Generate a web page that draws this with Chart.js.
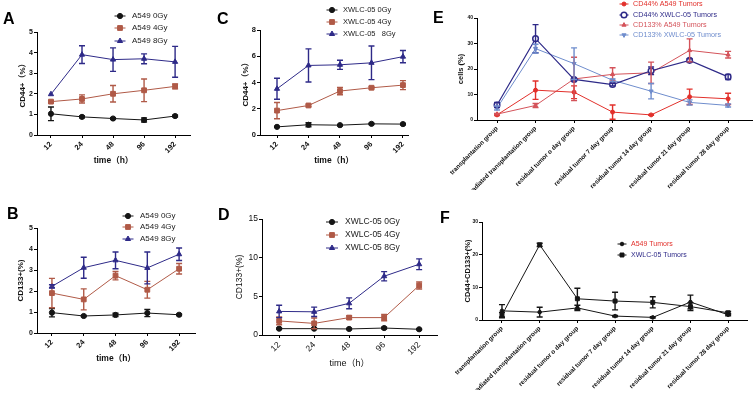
<!DOCTYPE html>
<html>
<head>
<meta charset="utf-8">
<script src="https://cdn.jsdelivr.net/npm/chart.js@4.4.1/dist/chart.umd.min.js"></script>
<style>
html, body { margin: 0; padding: 0; background: #fff; }
#wrap { position: relative; width: 753px; height: 400px; overflow: hidden; background: #fff; }
#wrap canvas { position: absolute; left: 0; top: 0; }
.lbl { position: absolute; font: bold 16px "Liberation Sans", Arial, sans-serif; line-height: 16px; color: #000; }
</style>
</head>
<body>
<div id="wrap">
  <canvas id="cA" width="753" height="400"></canvas>
  <canvas id="cB" width="753" height="400"></canvas>
  <canvas id="cC" width="753" height="400"></canvas>
  <canvas id="cD" width="753" height="400"></canvas>
  <canvas id="cE" width="753" height="400"></canvas>
  <canvas id="cF" width="753" height="400"></canvas>
  <div class="lbl" style="left:3px;top:11px">A</div>
  <div class="lbl" style="left:7px;top:206px">B</div>
  <div class="lbl" style="left:217px;top:11px">C</div>
  <div class="lbl" style="left:218px;top:207px">D</div>
  <div class="lbl" style="left:433px;top:10px">E</div>
  <div class="lbl" style="left:440px;top:210px">F</div>
</div>
<script>
// ---- data ----
const timeLabels = ['12', '24', '48', '96', '192'];
const groupLabels = ['transplantation group', 'irradiated transplantation group', 'residual tumor o day group',
  'residual tumor 7 day group', 'residual tumor 14 day group', 'residual tumor 21 day group', 'residual tumor 28 day group'];

const ticksA = [0, 1, 2, 3, 4, 5];
const ticksB = [0, 1, 2, 3, 4, 5];
const ticksC = [0, 2, 4, 6, 8];
const ticksD = [0, 5, 10, 15];
const ticksE = [0, 10, 20, 30, 40];
const ticksF = [0, 10, 20, 30];

// A: CD44+ A549
const a549Cd44Gy0 = [1.03, 0.88, 0.80, 0.73, 0.92];
const a549Cd44Gy0Err = [0.33, 0.04, 0.04, 0.10, 0.04];
const a549Cd44Gy4 = [1.62, 1.75, 2.00, 2.17, 2.36];
const a549Cd44Gy4Err = [0.05, 0.20, 0.40, 0.55, 0.12];
const a549Cd44Gy8 = [1.98, 3.90, 3.66, 3.70, 3.55];
const a549Cd44Gy8Err = [0, 0.43, 0.57, 0.24, 0.75];

// B: CD133+ A549
const a549Cd133Gy0 = [0.97, 0.81, 0.86, 0.95, 0.87];
const a549Cd133Gy0Err = [0.20, 0.03, 0.08, 0.17, 0.04];
const a549Cd133Gy4 = [1.90, 1.60, 2.73, 2.06, 3.06];
const a549Cd133Gy4Err = [0.70, 0.50, 0.20, 0.40, 0.25];
const a549Cd133Gy8 = [2.22, 3.11, 3.46, 3.10, 3.75];
const a549Cd133Gy8Err = [0.08, 0.50, 0.40, 0.76, 0.30];

// C: CD44+ XWLC-05
const xwlcCd44Gy0 = [0.62, 0.78, 0.75, 0.85, 0.83];
const xwlcCd44Gy0Err = [0.03, 0.15, 0.04, 0.05, 0.05];
const xwlcCd44Gy4 = [1.86, 2.25, 3.35, 3.60, 3.80];
const xwlcCd44Gy4Err = [0.62, 0.08, 0.28, 0.08, 0.34];
const xwlcCd44Gy8 = [3.52, 5.30, 5.35, 5.50, 5.97];
const xwlcCd44Gy8Err = [0.80, 1.26, 0.35, 1.28, 0.47];

// D: CD133+ XWLC-05
const xwlcCd133Gy0 = [0.82, 0.82, 0.78, 0.90, 0.74];
const xwlcCd133Gy0Err = [0.08, 0.08, 0.06, 0.10, 0.06];
const xwlcCd133Gy4 = [1.82, 1.50, 2.25, 2.25, 6.40];
const xwlcCd133Gy4Err = [0.50, 0.70, 0.20, 0.40, 0.45];
const xwlcCd133Gy8 = [3.05, 3.00, 4.10, 7.60, 9.15];
const xwlcCd133Gy8Err = [0.80, 0.60, 0.70, 0.60, 0.70];

// E: tumors
const cd44A549Tumor = [2.0, 11.7, 10.9, 3.1, 2.0, 9.1, 8.3];
const cd44A549TumorErr = [0.3, 3.6, 2.5, 2.8, 0.2, 3.0, 2.2];
const cd44XwlcTumor = [5.9, 31.9, 15.9, 13.9, 19.3, 23.4, 16.9];
const cd44XwlcTumorErr = [1.0, 5.5, 0.5, 0.5, 1.5, 0.6, 1.0];
const cd133A549Tumor = [2.3, 5.7, 16.1, 17.9, 18.5, 27.3, 25.6];
const cd133A549TumorErr = [0.3, 0.8, 8.5, 2.6, 4.2, 4.5, 1.3];
const cd133XwlcTumor = [4.7, 28.0, 22.1, 15.6, 11.3, 6.9, 5.7];
const cd133XwlcTumorErr = [0.8, 1.7, 6.2, 0.5, 3.0, 1.0, 0.6];

// F: CD44+CD133+
const dualA549Tumor = [2.8, 2.4, 3.7, 1.2, 0.8, 5.5, 1.6];
const dualA549TumorErr = [1.9, 1.5, 0.8, 0.2, 0.2, 2.1, 0.3];
const dualXwlcTumor = [1.5, 23.0, 6.5, 5.8, 5.4, 4.1, 2.2];
const dualXwlcTumorErr = [0.8, 0.5, 3.2, 2.7, 1.7, 1.2, 0.4];

// ---- drawing ----
const FONT = '"Liberation Sans", Arial, "Noto Sans CJK SC", sans-serif';
const BLACK = '#151515', BROWN = '#b05a47', NAVY = '#2e2a88';

const errorBarPlugin = {
  id: 'errorBars',
  afterDatasetsDraw(chart) {
    const ctx = chart.ctx, xs = chart.scales.x, ys = chart.scales.y;
    chart.data.datasets.forEach(ds => {
      if (!ds.errors) return;
      ctx.save();
      ctx.strokeStyle = ds.borderColor;
      ctx.lineWidth = 1.4;
      ds.data.forEach((pt, i) => {
        const e = ds.errors[i];
        if (!e) return;
        const x = xs.getPixelForValue(pt.x);
        const y1 = ys.getPixelForValue(pt.y + e), y2 = ys.getPixelForValue(pt.y - e);
        const c = 3;
        ctx.beginPath();
        ctx.moveTo(x, y1); ctx.lineTo(x, y2);
        ctx.moveTo(x - c, y1); ctx.lineTo(x + c, y1);
        ctx.moveTo(x - c, y2); ctx.lineTo(x + c, y2);
        ctx.stroke();
      });
      ctx.restore();
    });
  }
};

const miniLegendPlugin = {
  id: 'miniLegend',
  afterDraw(chart, args, o) {
    if (!o || !o.ys) return;
    const ctx = chart.ctx;
    ctx.save();
    chart.data.datasets.forEach((ds, i) => {
      const y = o.ys[i], x = o.cx;
      ctx.strokeStyle = ds.borderColor;
      ctx.lineWidth = ds.borderWidth;
      ctx.beginPath(); ctx.moveTo(x - o.half, y); ctx.lineTo(x + o.half, y); ctx.stroke();
      ctx.fillStyle = ds.pointBackgroundColor;
      ctx.strokeStyle = ds.pointBorderColor;
      ctx.lineWidth = ds.pointBorderWidth;
      Chart.helpers.drawPoint(ctx, {pointStyle: ds.pointStyle, radius: ds.pointRadius,
        rotation: ds.pointRotation, borderWidth: ds.pointBorderWidth}, x, y);
      ctx.fillStyle = (o.colors && o.colors[i]) || '#222';
      ctx.font = o.size + 'px ' + FONT;
      ctx.textBaseline = 'middle';
      ctx.textAlign = 'left';
      ctx.fillText(ds.label, o.tx, y);
    });
    ctx.restore();
  }
};

function axisStyle() {
  return {
    grid: {display: true, drawOnChartArea: false, drawTicks: true, tickLength: 3, color: '#000', lineWidth: 1},
    border: {display: true, color: '#000', width: 1}
  };
}

function buildChart(id, p) {
  const ytl = p.yTitleSize * 1.2;
  const wy = p.box.l - (p.yTitleX - ytl / 2);
  const hx = p.xTitle ? p.xTitleY + p.xTitleSize * 0.6 - p.box.b : 70;
  const datasets = p.series.map(s => ({
    label: s.label,
    data: s.values.map((v, i) => ({x: i, y: v})),
    errors: s.errors,
    borderColor: s.color,
    backgroundColor: s.fill || s.color,
    pointBackgroundColor: s.fill || s.color,
    pointBorderColor: s.color,
    pointBorderWidth: s.pbw || 1,
    pointStyle: s.shape,
    pointRadius: s.r,
    pointRotation: s.rot || 0,
    borderWidth: s.lw || 1,
    tension: 0,
    fill: false
  }));
  return new Chart(document.getElementById(id), {
    type: 'line',
    data: {datasets},
    options: {
      responsive: false,
      animation: false,
      events: [],
      layout: {autoPadding: false, padding: {left: p.box.l - wy, top: p.box.t, right: 753 - p.box.r, bottom: 400 - p.box.b - hx}},
      plugins: {legend: {display: false}, tooltip: {enabled: false}, miniLegend: p.legend},
      scales: {
        x: Object.assign(axisStyle(), {
          type: 'linear', min: p.xMin, max: p.xMax,
          afterBuildTicks: s => { s.ticks = p.cats.map((c, i) => ({value: i})); },
          afterFit: s => { s.height = hx; },
          ticks: {autoSkip: false, minRotation: 45, maxRotation: 45, padding: 2, color: '#111',
            font: {family: FONT, size: p.xTickSize, weight: p.xTickWeight}, callback: v => p.cats[v]},
          title: {display: !!p.xTitle, text: p.xTitle, padding: 0, color: '#111',
            font: {family: FONT, size: p.xTitleSize, weight: p.xTitleWeight, lineHeight: 1.2}}
        }),
        y: Object.assign(axisStyle(), {
          min: p.yTicks[0], max: p.yTicks[p.yTicks.length - 1],
          afterBuildTicks: s => { s.ticks = p.yTicks.map(v => ({value: v})); },
          afterFit: s => { s.width = wy; },
          ticks: {padding: 1, color: '#111', font: {family: FONT, size: p.yTickSize, weight: p.yTickWeight}},
          title: {display: true, text: p.yTitle, padding: 0, color: '#111',
            font: {family: FONT, size: p.yTitleSize, weight: p.yTitleWeight, lineHeight: 1.2}}
        })
      }
    },
    plugins: [errorBarPlugin, miniLegendPlugin]
  });
}

function doseSeries(name, v0, e0, v4, e4, v8, e8, gap8) {
  return [
    {label: name + ' 0Gy', values: v0, errors: e0, color: BLACK, shape: 'circle', r: 2.6},
    {label: name + ' 4Gy', values: v4, errors: e4, color: BROWN, shape: 'rect', r: 3.4},
    {label: name + (gap8 ? '   8Gy' : ' 8Gy'), values: v8, errors: e8, color: NAVY, shape: 'triangle', r: 3}
  ];
}

buildChart('cA', {
  box: {l: 37, t: 32, r: 190, b: 135}, cats: timeLabels, xMin: -0.45, xMax: 4.48, yTicks: ticksA,
  yTitle: 'CD44+（%）', yTitleX: 23, yTitleSize: 8, yTitleWeight: 'bold',
  xTitle: 'time（h）', xTitleY: 161, xTitleSize: 8.5, xTitleWeight: 'bold',
  yTickSize: 7, yTickWeight: 'bold', xTickSize: 7.5, xTickWeight: 'bold',
  series: doseSeries('A549', a549Cd44Gy0, a549Cd44Gy0Err, a549Cd44Gy4, a549Cd44Gy4Err, a549Cd44Gy8, a549Cd44Gy8Err),
  legend: {cx: 120, half: 5.5, tx: 132, ys: [16, 28, 41], size: 8}
});

buildChart('cB', {
  box: {l: 37, t: 228, r: 195, b: 333}, cats: timeLabels, xMin: -0.47, xMax: 4.5, yTicks: ticksB,
  yTitle: 'CD133+(%)', yTitleX: 21, yTitleSize: 8, yTitleWeight: 'bold',
  xTitle: 'time（h）', xTitleY: 359, xTitleSize: 8.5, xTitleWeight: 'bold',
  yTickSize: 7, yTickWeight: 'bold', xTickSize: 7.5, xTickWeight: 'bold',
  series: doseSeries('A549', a549Cd133Gy0, a549Cd133Gy0Err, a549Cd133Gy4, a549Cd133Gy4Err, a549Cd133Gy8, a549Cd133Gy8Err),
  legend: {cx: 128, half: 5.5, tx: 140, ys: [216, 227, 239], size: 8}
});

buildChart('cC', {
  box: {l: 260, t: 30, r: 408, b: 135}, cats: timeLabels, xMin: -0.54, xMax: 4.16, yTicks: ticksC,
  yTitle: 'CD44+（%）', yTitleX: 246, yTitleSize: 8, yTitleWeight: 'bold',
  xTitle: 'time（h）', xTitleY: 161, xTitleSize: 8.5, xTitleWeight: 'bold',
  yTickSize: 7.5, yTickWeight: 'bold', xTickSize: 7.5, xTickWeight: 'bold',
  series: doseSeries('XWLC-05', xwlcCd44Gy0, xwlcCd44Gy0Err, xwlcCd44Gy4, xwlcCd44Gy4Err, xwlcCd44Gy8, xwlcCd44Gy8Err, true),
  legend: {cx: 332, half: 5.5, tx: 343, ys: [10, 22, 34], size: 7.5}
});

buildChart('cD', {
  box: {l: 262, t: 219, r: 437, b: 335}, cats: timeLabels, xMin: -0.49, xMax: 4.51, yTicks: ticksD,
  yTitle: 'CD133+(%)', yTitleX: 240, yTitleSize: 8.5, yTitleWeight: 'normal',
  xTitle: 'time（h）', xTitleY: 364, xTitleSize: 9, xTitleWeight: 'normal',
  yTickSize: 8.5, yTickWeight: 'normal', xTickSize: 8.5, xTickWeight: 'normal',
  series: doseSeries('XWLC-05', xwlcCd133Gy0, xwlcCd133Gy0Err, xwlcCd133Gy4, xwlcCd133Gy4Err, xwlcCd133Gy8, xwlcCd133Gy8Err),
  legend: {cx: 332, half: 6, tx: 345, ys: [222, 235, 248], size: 8.5}
});

const RED = '#e2302b', RED2 = '#d4535a', LBLUE = '#6f8dcd';

buildChart('cE', {
  box: {l: 477, t: 18, r: 752, b: 120}, cats: groupLabels, xMin: -0.52, xMax: 6.62, yTicks: ticksE,
  yTitle: 'cells (%)', yTitleX: 461, yTitleSize: 7.5, yTitleWeight: 'bold',
  yTickSize: 5, yTickWeight: 'bold', xTickSize: 6.3, xTickWeight: 'bold',
  series: [
    {label: 'CD44% A549 Tumors', values: cd44A549Tumor, errors: cd44A549TumorErr, color: RED, shape: 'circle', r: 2},
    {label: 'CD44% XWLC-05 Tumors', values: cd44XwlcTumor, errors: cd44XwlcTumorErr, color: NAVY, fill: '#fff', shape: 'circle', r: 2.8, pbw: 1.5, lw: 1.2},
    {label: 'CD133% A549 Tumors', values: cd133A549Tumor, errors: cd133A549TumorErr, color: RED2, shape: 'triangle', r: 2.4},
    {label: 'CD133% XWLC-05 Tumors', values: cd133XwlcTumor, errors: cd133XwlcTumorErr, color: LBLUE, shape: 'triangle', r: 2.4, rot: 180}
  ],
  legend: {cx: 624, half: 4.5, tx: 633, ys: [4, 15, 25, 35], size: 7.2, colors: [RED, NAVY, RED2, LBLUE]}
});

buildChart('cF', {
  box: {l: 482, t: 222, r: 747, b: 320}, cats: groupLabels, xMin: -0.53, xMax: 6.5, yTicks: ticksF,
  yTitle: 'CD44+CD133+(%)', yTitleX: 468, yTitleSize: 7.5, yTitleWeight: 'bold',
  yTickSize: 5, yTickWeight: 'bold', xTickSize: 6.3, xTickWeight: 'bold',
  series: [
    {label: 'A549 Tumors', values: dualA549Tumor, errors: dualA549TumorErr, color: BLACK, shape: 'circle', r: 1.8},
    {label: 'XWLC-05 Tumors', values: dualXwlcTumor, errors: dualXwlcTumorErr, color: BLACK, shape: 'rect', r: 2.8}
  ],
  legend: {cx: 622, half: 4.5, tx: 631, ys: [244, 255], size: 7, colors: [RED, NAVY]}
});
</script>
</body>
</html>
